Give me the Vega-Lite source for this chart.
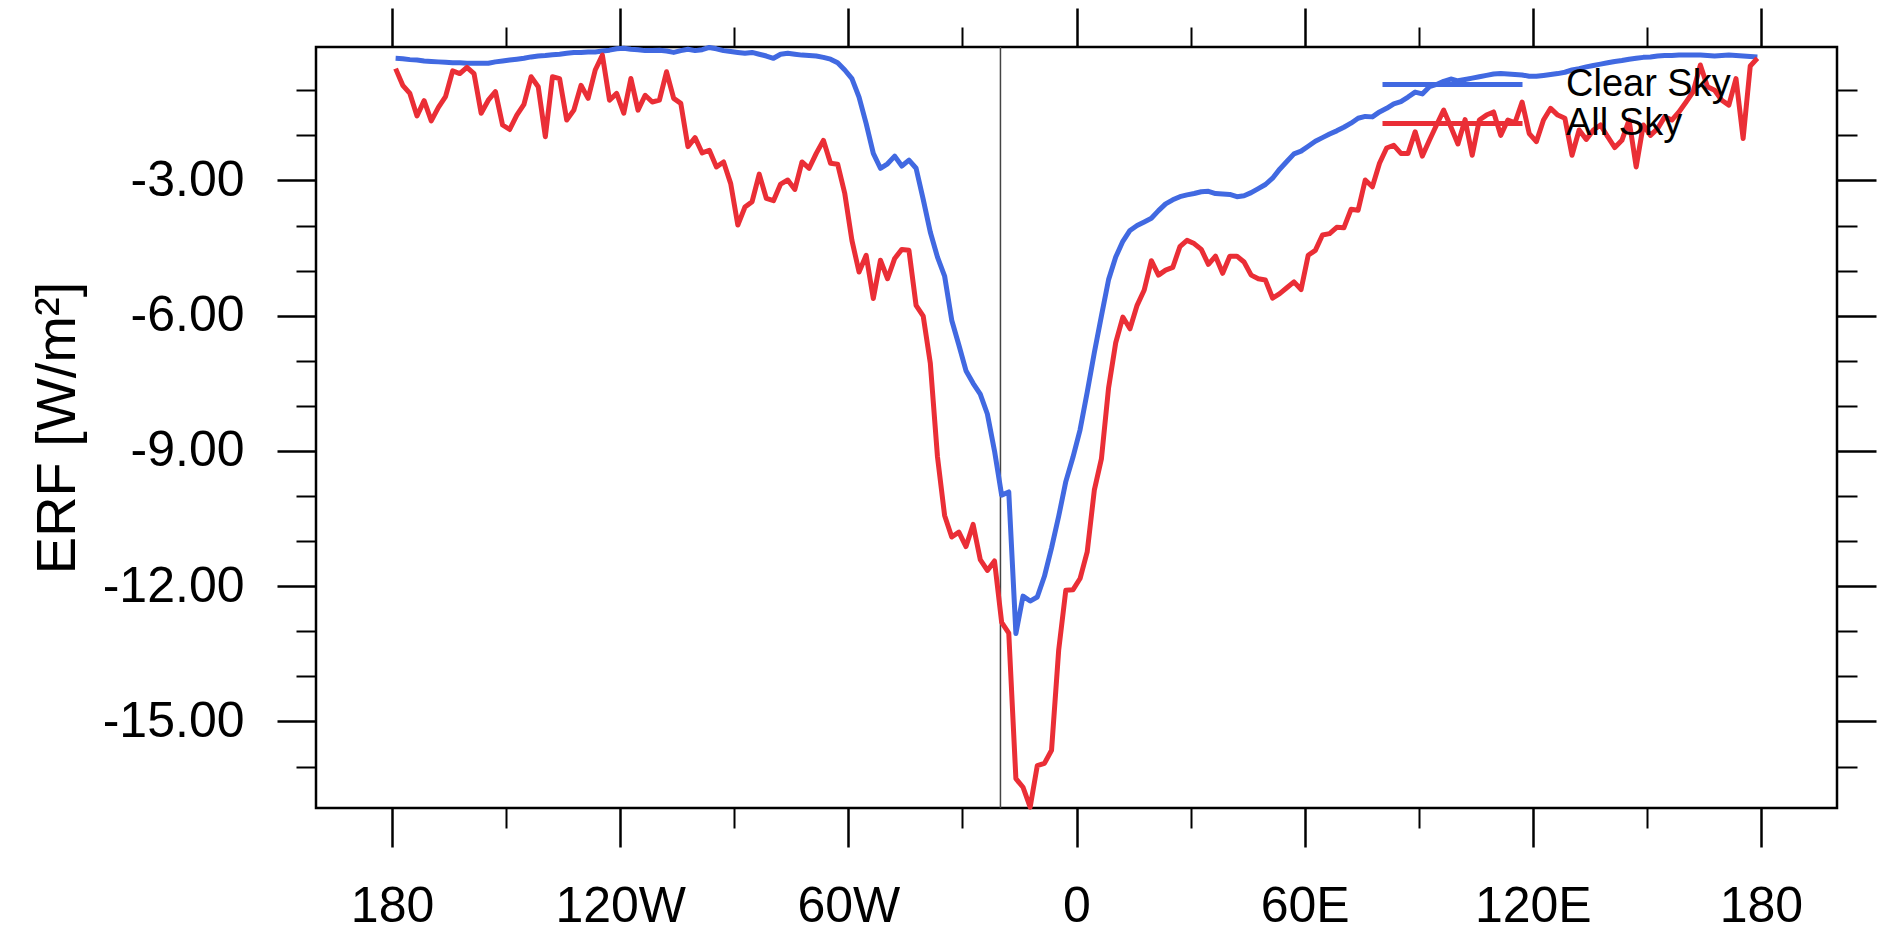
{
  "$schema": "https://vega.github.io/schema/vega-lite/v6.json",
  "autosize": {"type": "none"},
  "padding": {"left": 316, "top": 47, "right": 41, "bottom": 123},
  "width": 1521,
  "height": 761,
  "background": "white",
  "config": {
    "font": "Liberation Sans",
    "view": {"stroke": "black", "strokeWidth": 2.5},
    "axis": {"grid": false, "domain": false, "tickColor": "black", "labelColor": "black", "titleColor": "black", "labelFlush": false, "labelOverlap": false, "labelBound": false}
  },
  "data": {"values": [
    {"lon": -179.0625, "clear": -0.29, "all": -0.52},
    {"lon": -177.1875, "clear": -0.30, "all": -0.89},
    {"lon": -175.3125, "clear": -0.32, "all": -1.07},
    {"lon": -173.4375, "clear": -0.33, "all": -1.57},
    {"lon": -171.5625, "clear": -0.35, "all": -1.23},
    {"lon": -169.6875, "clear": -0.36, "all": -1.68},
    {"lon": -167.8125, "clear": -0.37, "all": -1.38},
    {"lon": -165.9375, "clear": -0.38, "all": -1.14},
    {"lon": -164.0625, "clear": -0.39, "all": -0.57},
    {"lon": -162.1875, "clear": -0.39, "all": -0.63},
    {"lon": -160.3125, "clear": -0.40, "all": -0.49},
    {"lon": -158.4375, "clear": -0.40, "all": -0.63},
    {"lon": -156.5625, "clear": -0.40, "all": -1.51},
    {"lon": -154.6875, "clear": -0.40, "all": -1.22},
    {"lon": -152.8125, "clear": -0.37, "all": -1.03},
    {"lon": -150.9375, "clear": -0.35, "all": -1.77},
    {"lon": -149.0625, "clear": -0.33, "all": -1.87},
    {"lon": -147.1875, "clear": -0.31, "all": -1.55},
    {"lon": -145.3125, "clear": -0.29, "all": -1.31},
    {"lon": -143.4375, "clear": -0.26, "all": -0.70},
    {"lon": -141.5625, "clear": -0.24, "all": -0.92},
    {"lon": -139.6875, "clear": -0.23, "all": -2.03},
    {"lon": -137.8125, "clear": -0.21, "all": -0.70},
    {"lon": -135.9375, "clear": -0.20, "all": -0.74},
    {"lon": -134.0625, "clear": -0.18, "all": -1.66},
    {"lon": -132.1875, "clear": -0.16, "all": -1.44},
    {"lon": -130.3125, "clear": -0.16, "all": -0.89},
    {"lon": -128.4375, "clear": -0.15, "all": -1.18},
    {"lon": -126.5625, "clear": -0.15, "all": -0.55},
    {"lon": -124.6875, "clear": -0.13, "all": -0.22},
    {"lon": -122.8125, "clear": -0.11, "all": -1.22},
    {"lon": -120.9375, "clear": -0.08, "all": -1.07},
    {"lon": -119.0625, "clear": -0.07, "all": -1.51},
    {"lon": -117.1875, "clear": -0.09, "all": -0.74},
    {"lon": -115.3125, "clear": -0.10, "all": -1.44},
    {"lon": -113.4375, "clear": -0.12, "all": -1.11},
    {"lon": -111.5625, "clear": -0.12, "all": -1.26},
    {"lon": -109.6875, "clear": -0.11, "all": -1.22},
    {"lon": -107.8125, "clear": -0.13, "all": -0.59},
    {"lon": -105.9375, "clear": -0.16, "all": -1.18},
    {"lon": -104.0625, "clear": -0.12, "all": -1.29},
    {"lon": -102.1875, "clear": -0.09, "all": -2.25},
    {"lon": -100.3125, "clear": -0.12, "all": -2.05},
    {"lon": -98.4375, "clear": -0.10, "all": -2.39},
    {"lon": -96.5625, "clear": -0.05, "all": -2.33},
    {"lon": -94.6875, "clear": -0.08, "all": -2.70},
    {"lon": -92.8125, "clear": -0.12, "all": -2.59},
    {"lon": -90.9375, "clear": -0.14, "all": -3.07},
    {"lon": -89.0625, "clear": -0.16, "all": -3.99},
    {"lon": -87.1875, "clear": -0.18, "all": -3.59},
    {"lon": -85.3125, "clear": -0.16, "all": -3.47},
    {"lon": -83.4375, "clear": -0.20, "all": -2.86},
    {"lon": -81.5625, "clear": -0.24, "all": -3.40},
    {"lon": -79.6875, "clear": -0.29, "all": -3.45},
    {"lon": -77.8125, "clear": -0.20, "all": -3.08},
    {"lon": -75.9375, "clear": -0.18, "all": -2.99},
    {"lon": -74.0625, "clear": -0.20, "all": -3.20},
    {"lon": -72.1875, "clear": -0.22, "all": -2.59},
    {"lon": -70.3125, "clear": -0.23, "all": -2.73},
    {"lon": -68.4375, "clear": -0.24, "all": -2.40},
    {"lon": -66.5625, "clear": -0.27, "all": -2.11},
    {"lon": -64.6875, "clear": -0.31, "all": -2.62},
    {"lon": -62.8125, "clear": -0.39, "all": -2.64},
    {"lon": -60.9375, "clear": -0.55, "all": -3.29},
    {"lon": -59.0625, "clear": -0.74, "all": -4.33},
    {"lon": -57.1875, "clear": -1.15, "all": -5.03},
    {"lon": -55.3125, "clear": -1.74, "all": -4.66},
    {"lon": -53.4375, "clear": -2.40, "all": -5.62},
    {"lon": -51.5625, "clear": -2.73, "all": -4.77},
    {"lon": -49.6875, "clear": -2.63, "all": -5.18},
    {"lon": -47.8125, "clear": -2.46, "all": -4.73},
    {"lon": -45.9375, "clear": -2.68, "all": -4.53},
    {"lon": -44.0625, "clear": -2.55, "all": -4.55},
    {"lon": -42.1875, "clear": -2.73, "all": -5.77},
    {"lon": -40.3125, "clear": -3.42, "all": -6.01},
    {"lon": -38.4375, "clear": -4.15, "all": -7.06},
    {"lon": -36.5625, "clear": -4.70, "all": -9.13},
    {"lon": -34.6875, "clear": -5.12, "all": -10.43},
    {"lon": -32.8125, "clear": -6.10, "all": -10.91},
    {"lon": -30.9375, "clear": -6.65, "all": -10.80},
    {"lon": -29.0625, "clear": -7.22, "all": -11.12},
    {"lon": -27.1875, "clear": -7.50, "all": -10.63},
    {"lon": -25.3125, "clear": -7.74, "all": -11.41},
    {"lon": -23.4375, "clear": -8.18, "all": -11.65},
    {"lon": -21.5625, "clear": -9.00, "all": -11.44},
    {"lon": -19.6875, "clear": -9.98, "all": -12.80},
    {"lon": -17.8125, "clear": -9.91, "all": -13.04},
    {"lon": -15.9375, "clear": -13.05, "all": -16.27},
    {"lon": -14.0625, "clear": -12.22, "all": -16.46},
    {"lon": -12.1875, "clear": -12.33, "all": -16.90},
    {"lon": -10.3125, "clear": -12.24, "all": -15.98},
    {"lon": -8.4375, "clear": -11.78, "all": -15.93},
    {"lon": -6.5625, "clear": -11.15, "all": -15.64},
    {"lon": -4.6875, "clear": -10.45, "all": -13.42},
    {"lon": -2.8125, "clear": -9.68, "all": -12.09},
    {"lon": -0.9375, "clear": -9.14, "all": -12.08},
    {"lon": 0.9375, "clear": -8.53, "all": -11.83},
    {"lon": 2.8125, "clear": -7.70, "all": -11.24},
    {"lon": 4.6875, "clear": -6.82, "all": -9.87},
    {"lon": 6.5625, "clear": -6.00, "all": -9.17},
    {"lon": 8.4375, "clear": -5.20, "all": -7.60},
    {"lon": 10.3125, "clear": -4.70, "all": -6.60},
    {"lon": 12.1875, "clear": -4.35, "all": -6.03},
    {"lon": 14.0625, "clear": -4.11, "all": -6.29},
    {"lon": 15.9375, "clear": -4.00, "all": -5.77},
    {"lon": 17.8125, "clear": -3.92, "all": -5.43},
    {"lon": 19.6875, "clear": -3.84, "all": -4.78},
    {"lon": 21.5625, "clear": -3.67, "all": -5.10},
    {"lon": 23.4375, "clear": -3.52, "all": -4.99},
    {"lon": 25.3125, "clear": -3.43, "all": -4.93},
    {"lon": 27.1875, "clear": -3.36, "all": -4.47},
    {"lon": 29.0625, "clear": -3.32, "all": -4.33},
    {"lon": 30.9375, "clear": -3.29, "all": -4.40},
    {"lon": 32.8125, "clear": -3.25, "all": -4.53},
    {"lon": 34.6875, "clear": -3.24, "all": -4.86},
    {"lon": 36.5625, "clear": -3.29, "all": -4.68},
    {"lon": 38.4375, "clear": -3.30, "all": -5.06},
    {"lon": 40.3125, "clear": -3.31, "all": -4.68},
    {"lon": 42.1875, "clear": -3.36, "all": -4.68},
    {"lon": 44.0625, "clear": -3.34, "all": -4.81},
    {"lon": 45.9375, "clear": -3.27, "all": -5.10},
    {"lon": 47.8125, "clear": -3.18, "all": -5.18},
    {"lon": 49.6875, "clear": -3.09, "all": -5.21},
    {"lon": 51.5625, "clear": -2.95, "all": -5.61},
    {"lon": 53.4375, "clear": -2.75, "all": -5.51},
    {"lon": 55.3125, "clear": -2.58, "all": -5.38},
    {"lon": 57.1875, "clear": -2.41, "all": -5.25},
    {"lon": 59.0625, "clear": -2.35, "all": -5.42},
    {"lon": 60.9375, "clear": -2.24, "all": -4.66},
    {"lon": 62.8125, "clear": -2.13, "all": -4.55},
    {"lon": 64.6875, "clear": -2.05, "all": -4.21},
    {"lon": 66.5625, "clear": -1.97, "all": -4.18},
    {"lon": 68.4375, "clear": -1.90, "all": -4.04},
    {"lon": 70.3125, "clear": -1.82, "all": -4.05},
    {"lon": 72.1875, "clear": -1.73, "all": -3.64},
    {"lon": 74.0625, "clear": -1.62, "all": -3.66},
    {"lon": 75.9375, "clear": -1.58, "all": -2.99},
    {"lon": 77.8125, "clear": -1.59, "all": -3.14},
    {"lon": 79.6875, "clear": -1.48, "all": -2.62},
    {"lon": 81.5625, "clear": -1.40, "all": -2.28},
    {"lon": 83.4375, "clear": -1.30, "all": -2.22},
    {"lon": 85.3125, "clear": -1.25, "all": -2.40},
    {"lon": 87.1875, "clear": -1.15, "all": -2.40},
    {"lon": 89.0625, "clear": -1.04, "all": -1.92},
    {"lon": 90.9375, "clear": -1.08, "all": -2.46},
    {"lon": 92.8125, "clear": -0.92, "all": -2.11},
    {"lon": 94.6875, "clear": -0.87, "all": -1.77},
    {"lon": 96.5625, "clear": -0.80, "all": -1.44},
    {"lon": 98.4375, "clear": -0.75, "all": -1.81},
    {"lon": 100.3125, "clear": -0.79, "all": -2.19},
    {"lon": 102.1875, "clear": -0.76, "all": -1.65},
    {"lon": 104.0625, "clear": -0.73, "all": -2.44},
    {"lon": 105.9375, "clear": -0.70, "all": -1.66},
    {"lon": 107.8125, "clear": -0.67, "all": -1.55},
    {"lon": 109.6875, "clear": -0.64, "all": -1.48},
    {"lon": 111.5625, "clear": -0.63, "all": -2.00},
    {"lon": 113.4375, "clear": -0.64, "all": -1.66},
    {"lon": 115.3125, "clear": -0.65, "all": -1.72},
    {"lon": 117.1875, "clear": -0.66, "all": -1.26},
    {"lon": 119.0625, "clear": -0.69, "all": -1.96},
    {"lon": 120.9375, "clear": -0.69, "all": -2.14},
    {"lon": 122.8125, "clear": -0.67, "all": -1.66},
    {"lon": 124.6875, "clear": -0.65, "all": -1.40},
    {"lon": 126.5625, "clear": -0.63, "all": -1.55},
    {"lon": 128.4375, "clear": -0.60, "all": -1.62},
    {"lon": 130.3125, "clear": -0.55, "all": -2.44},
    {"lon": 132.1875, "clear": -0.52, "all": -1.88},
    {"lon": 134.0625, "clear": -0.48, "all": -2.09},
    {"lon": 135.9375, "clear": -0.45, "all": -1.88},
    {"lon": 137.8125, "clear": -0.42, "all": -1.77},
    {"lon": 139.6875, "clear": -0.39, "all": -2.03},
    {"lon": 141.5625, "clear": -0.36, "all": -2.27},
    {"lon": 143.4375, "clear": -0.34, "all": -2.11},
    {"lon": 145.3125, "clear": -0.31, "all": -1.66},
    {"lon": 147.1875, "clear": -0.29, "all": -2.70},
    {"lon": 149.0625, "clear": -0.27, "all": -1.77},
    {"lon": 150.9375, "clear": -0.26, "all": -2.00},
    {"lon": 152.8125, "clear": -0.24, "all": -1.85},
    {"lon": 154.6875, "clear": -0.23, "all": -1.59},
    {"lon": 156.5625, "clear": -0.23, "all": -1.66},
    {"lon": 158.4375, "clear": -0.22, "all": -1.48},
    {"lon": 160.3125, "clear": -0.22, "all": -1.26},
    {"lon": 162.1875, "clear": -0.22, "all": -1.03},
    {"lon": 164.0625, "clear": -0.22, "all": -0.44},
    {"lon": 165.9375, "clear": -0.23, "all": -0.92},
    {"lon": 167.8125, "clear": -0.24, "all": -1.00},
    {"lon": 169.6875, "clear": -0.23, "all": -1.22},
    {"lon": 171.5625, "clear": -0.22, "all": -1.33},
    {"lon": 173.4375, "clear": -0.23, "all": -0.74},
    {"lon": 175.3125, "clear": -0.24, "all": -2.07},
    {"lon": 177.1875, "clear": -0.25, "all": -0.46},
    {"lon": 179.0625, "clear": -0.26, "all": -0.29}
  ]},
  "layer": [
    {
      "data": {"values": [{"lon": -20}]},
      "mark": {"type": "rule", "color": "#444444", "strokeWidth": 1.5},
      "encoding": {
        "x": {"field": "lon", "type": "quantitative", "scale": {"domain": [-200, 200], "nice": false, "zero": false}, "axis": null}
      }
    },
    {
      "mark": {"type": "line", "strokeWidth": 5, "strokeJoin": "round"},
      "encoding": {
        "x": {"field": "lon", "type": "quantitative", "scale": {"domain": [-200, 200], "nice": false, "zero": false},
          "axis": {"orient": "bottom", "values": [-180, -120, -60, 0, 60, 120, 180], "labelExpr": "datum.value == 0 ? '0' : abs(datum.value) == 180 ? '180' : datum.value < 0 ? (-datum.value) + 'W' : datum.value + 'E'", "labelFontSize": 50, "labelPadding": 34, "tickSize": 39, "tickWidth": 2.5, "title": null}},
        "y": {"field": "clear", "type": "quantitative", "scale": {"domain": [-16.92, -0.04], "nice": false, "zero": false},
          "axis": {"orient": "left", "values": [-15, -12, -9, -6, -3], "labelExpr": "(datum.value < 0 ? '-' : '') + format(abs(datum.value), '.2f')", "labelFontSize": 50, "labelPadding": 33, "tickSize": 39, "tickWidth": 2.5, "title": "ERF [W/m²]", "titleFontSize": 56, "titleFontWeight": "normal", "titlePadding": 30}},
        "color": {"datum": "Clear Sky", "type": "nominal",
          "scale": {"domain": ["Clear Sky", "All Sky"], "range": ["#4169E1", "#EA2E36"]},
          "legend": {"orient": "none", "legendX": 1064, "legendY": 19, "title": null, "symbolType": "stroke", "symbolSize": 19600, "symbolStrokeWidth": 5, "labelFontSize": 38, "labelOffset": 41, "labelColor": "black", "rowPadding": 0, "padding": 0, "clipHeight": 37, "labelLimit": 0}}
      }
    },
    {
      "mark": {"type": "line", "strokeWidth": 5, "strokeJoin": "round"},
      "encoding": {
        "x": {"field": "lon", "type": "quantitative",
          "axis": {"orient": "top", "values": [-180, -120, -60, 0, 60, 120, 180], "labels": false, "tickSize": 39, "tickWidth": 2.5, "title": null}},
        "y": {"field": "all", "type": "quantitative",
          "axis": {"orient": "right", "values": [-15, -12, -9, -6, -3], "labels": false, "tickSize": 39, "tickWidth": 2.5, "title": null}},
        "color": {"datum": "All Sky", "type": "nominal"}
      }
    },
    {
      "mark": {"type": "line", "opacity": 0},
      "encoding": {
        "x": {"field": "lon", "type": "quantitative",
          "axis": {"orient": "bottom", "values": [-150, -90, -30, 30, 90, 150], "labels": false, "tickSize": 20, "tickWidth": 2, "title": null}},
        "y": {"field": "clear", "type": "quantitative",
          "axis": {"orient": "left", "values": [-16, -14, -13, -11, -10, -8, -7, -5, -4, -2, -1], "labels": false, "tickSize": 20, "tickWidth": 2, "title": null}}
      }
    },
    {
      "mark": {"type": "line", "opacity": 0},
      "encoding": {
        "x": {"field": "lon", "type": "quantitative",
          "axis": {"orient": "top", "values": [-150, -90, -30, 30, 90, 150], "labels": false, "tickSize": 20, "tickWidth": 2, "title": null}},
        "y": {"field": "clear", "type": "quantitative",
          "axis": {"orient": "right", "values": [-16, -14, -13, -11, -10, -8, -7, -5, -4, -2, -1], "labels": false, "tickSize": 20, "tickWidth": 2, "title": null}}
      }
    }
  ],
  "resolve": {"axis": {"x": "independent", "y": "independent"}}
}
